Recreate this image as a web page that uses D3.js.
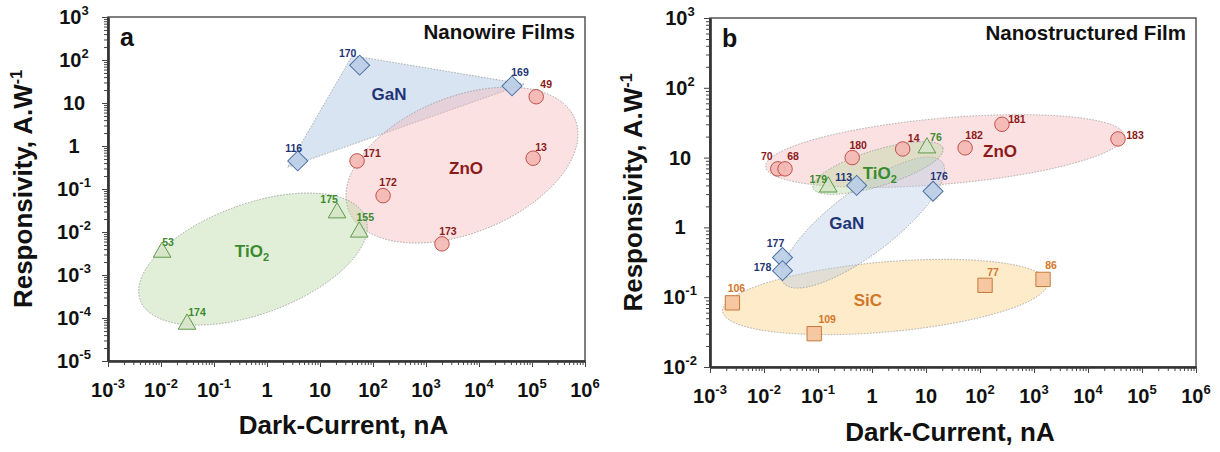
<!DOCTYPE html>
<html>
<head>
<meta charset="utf-8">
<script src="https://cdn.jsdelivr.net/npm/d3@7"></script>
<style>
  body { margin: 0; background: #fff; }
  svg { font-family: "Liberation Sans", Arial, sans-serif; }
</style>
</head>
<body>
<div id="chart"></div>
<script>
const width = 1220;
const height = 452;

// Panel a: nanowire films (dark current in nA, responsivity in A/W)
const nanowireZnO = [
    { ref: "49", dark: 1.2e5, resp: 14 },
    { ref: "13", dark: 1.05e5, resp: 0.52 },
    { ref: "171", dark: 50, resp: 0.45 },
    { ref: "172", dark: 155, resp: 0.07 },
    { ref: "173", dark: 2000, resp: 0.0053 }
];
const nanowireGaN = [
    { ref: "116", dark: 3.8, resp: 0.45 },
    { ref: "170", dark: 56, resp: 76 },
    { ref: "169", dark: 42000, resp: 25 }
];
const nanowireTiO2 = [
    { ref: "175", dark: 21, resp: 0.028 },
    { ref: "155", dark: 55, resp: 0.01 },
    { ref: "53", dark: 0.0105, resp: 0.0034 },
    { ref: "174", dark: 0.031, resp: 7.2e-5 }
];

// Panel b: nanostructured films
const filmZnO = [
    { ref: "70", dark: 0.018, resp: 6.9 },
    { ref: "68", dark: 0.0245, resp: 6.9 },
    { ref: "180", dark: 0.43, resp: 10 },
    { ref: "14", dark: 3.7, resp: 13.3 },
    { ref: "182", dark: 53, resp: 13.8 },
    { ref: "181", dark: 255, resp: 30 },
    { ref: "183", dark: 36000, resp: 18.5 }
];
const filmTiO2 = [
    { ref: "179", dark: 0.155, resp: 3.8 },
    { ref: "76", dark: 10.4, resp: 13.8 }
];
const filmGaN = [
    { ref: "113", dark: 0.52, resp: 4.0 },
    { ref: "176", dark: 13.5, resp: 3.3 },
    { ref: "177", dark: 0.022, resp: 0.37 },
    { ref: "178", dark: 0.022, resp: 0.24 }
];
const filmSiC = [
    { ref: "106", dark: 0.0026, resp: 0.083 },
    { ref: "109", dark: 0.085, resp: 0.03 },
    { ref: "77", dark: 124, resp: 0.148 },
    { ref: "86", dark: 1470, resp: 0.18 }
];

// shaded groups: ellipses given by the two ends of their long axis (data units)
const nanowireRegions = [
    { material: "GaN", kind: "hull" },
    { material: "ZnO", kind: "ellipse", from: [35, 0.031], to: [6.5e5, 4.2], half: 68 },
    { material: "TiO2", kind: "ellipse", from: [0.00406, 2.6e-4], to: [73, 0.0212], half: 55 }
];
const filmRegions = [
    { material: "SiC", kind: "ellipse", from: [0.00171, 0.063], to: [1770, 0.161], half: 35 },
    { material: "ZnO", kind: "ellipse", from: [0.01074, 7.41], to: [47000, 20.8], half: 33 },
    { material: "GaN", kind: "ellipse", from: [0.023, 0.16], to: [20, 8.6], half: 32 },
    { material: "TiO2", kind: "ellipse", from: [0.0807, 3.68], to: [20.6, 13.7], half: 18 }
];

const nanowireRegionLabels = [
    { material: "GaN", dark: 200, resp: 16 },
    { material: "ZnO", dark: 5700, resp: 0.31 },
    { material: "TiO2", dark: 0.52, resp: 0.0036 }
];
const filmRegionLabels = [
    { material: "ZnO", dark: 235, resp: 12.4 },
    { material: "TiO2", dark: 1.4, resp: 6.0 },
    { material: "GaN", dark: 0.34, resp: 1.16 },
    { material: "SiC", dark: 0.84, resp: 0.091 }
];

// tick labels: [base, exponent]
const xTickLabels = [["10", "-3"], ["10", "-2"], ["10", "-1"], ["1", ""], ["10", ""],
    ["10", "2"], ["10", "3"], ["10", "4"], ["10", "5"], ["10", "6"]];
const yTickLabelsA = [["10", "-5"], ["10", "-4"], ["10", "-3"], ["10", "-2"], ["10", "-1"],
    ["1", ""], ["10", ""], ["10", "2"], ["10", "3"]];
const yTickLabelsB = [["10", "-2"], ["10", "-1"], ["1", ""], ["10", ""], ["10", "2"], ["10", "3"]];

// label centre offsets from the marker, px
const labelOffsets = {
    a: { "116": [-4, -13], "170": [-12, -12], "169": [8, -14], "49": [10, -12], "13": [8, -11],
         "171": [15, -8], "172": [5, -13], "173": [6, -13], "175": [-8, -13], "155": [6, -15],
         "53": [6, -10], "174": [10, -12] },
    b: { "70": [-11, -13], "68": [8, -13], "180": [6, -12], "14": [11, -11], "179": [-10, -8],
         "113": [-13, -8], "181": [15, -5], "182": [9, -13], "183": [17, -4], "76": [9, -11],
         "176": [6, -15], "177": [-7, -14], "178": [-20, -3], "106": [4, -15], "109": [13, -14],
         "77": [8, -13], "86": [8, -14] }
};

const style = {
    ZnO:  { symbol: d3.symbolCircle, size: 165, rot: 0, fill: "#f4b8b2", stroke: "#c0504d", text: "#8b1a1a", region: "#f6b4b4" },
    GaN:  { symbol: d3.symbolSquare, size: 200, rot: 45, fill: "#b9cde5", stroke: "#4a6fa5", text: "#1f3575", region: "#b4cae6" },
    TiO2: { symbol: d3.symbolTriangle, size: 135, rot: 0, fill: "#d6e3c8", stroke: "#5e9a4b", text: "#3a8a2e", region: "#b6d89e" },
    SiC:  { symbol: d3.symbolSquare, size: 205, rot: 0, fill: "#f5c39b", stroke: "#c47a3a", text: "#d2772a", region: "#fcd796" }
};

const panels = [
    { key: "a", left: 108, top: 17, w: 477, h: 344, xDomain: [1e-3, 1e6], yDomain: [1e-5, 1e3],
      yLabels: yTickLabelsA, yLabelGap: 34, title: "Nanowire Films",
      series: [["ZnO", nanowireZnO], ["GaN", nanowireGaN], ["TiO2", nanowireTiO2]],
      regions: nanowireRegions, regionLabels: nanowireRegionLabels, yTitleX: 23, xTitleY: 434 },
    { key: "b", left: 710, top: 18, w: 486, h: 349, xDomain: [1e-3, 1e6], yDomain: [1e-2, 1e3],
      yLabels: yTickLabelsB, yLabelGap: 30, title: "Nanostructured Film",
      series: [["ZnO", filmZnO], ["TiO2", filmTiO2], ["GaN", filmGaN], ["SiC", filmSiC]],
      regions: filmRegions, regionLabels: filmRegionLabels, yTitleX: 633, xTitleY: 441 }
];

const svg = d3.select("#chart").append("svg")
    .attr("width", width)
    .attr("height", height);

function decades(domain) {
    const lo = Math.round(Math.log10(domain[0])), hi = Math.round(Math.log10(domain[1]));
    return d3.range(lo, hi + 1);
}

function minorTicks(domain) {
    const out = [];
    decades(domain).slice(0, -1).forEach(e => {
        for (let k = 2; k <= 9; k++) out.push(k * Math.pow(10, e));
    });
    return out;
}

function powerLabel(sel, label, supSize, supDy) {
    sel.append("tspan").text(label[0]);
    if (label[1]) {
        sel.append("tspan").attr("font-size", supSize).attr("dy", supDy).text(label[1]);
    }
}

function materialText(sel, name) {
    if (name === "TiO2") {
        sel.append("tspan").text("TiO");
        sel.append("tspan").attr("font-size", "0.65em").attr("dy", 4).text("2");
    } else {
        sel.text(name);
    }
}

function drawPanel(p) {
    const g = svg.append("g");
    const x = d3.scaleLog().domain(p.xDomain).range([p.left, p.left + p.w]);
    const y = d3.scaleLog().domain(p.yDomain).range([p.top + p.h, p.top]);
    const bottom = p.top + p.h;

    // shaded regions
    p.regions.forEach(r => {
        const st = style[r.material];
        if (r.kind === "hull") {
            const data = p.series.find(s => s[0] === r.material)[1];
            const hull = d3.polygonHull(data.map(d => [x(d.dark), y(d.resp)]));
            const c = d3.polygonCentroid(hull);
            const grown = hull.map(([px, py]) => {
                const dx = px - c[0], dy = py - c[1], l = Math.hypot(dx, dy);
                return [px + dx / l * 12, py + dy / l * 12];
            });
            g.append("path")
                .attr("d", "M" + grown.join("L") + "Z")
                .attr("fill", st.region).attr("fill-opacity", 0.5)
                .attr("stroke", "#999").attr("stroke-width", 0.8).attr("stroke-dasharray", "1.5,1.5");
        } else {
            const x1 = x(r.from[0]), y1 = y(r.from[1]), x2 = x(r.to[0]), y2 = y(r.to[1]);
            const cx = (x1 + x2) / 2, cy = (y1 + y2) / 2;
            const a = Math.hypot(x2 - x1, y2 - y1) / 2;
            const ang = Math.atan2(y2 - y1, x2 - x1) * 180 / Math.PI;
            g.append("ellipse")
                .attr("cx", cx).attr("cy", cy).attr("rx", a).attr("ry", r.half)
                .attr("transform", `rotate(${ang},${cx},${cy})`)
                .attr("fill", st.region).attr("fill-opacity", r.material === "SiC" ? 0.5 : 0.4)
                .attr("stroke", "#999").attr("stroke-width", 0.8).attr("stroke-dasharray", "1.5,1.5");
        }
    });

    // frame
    g.append("rect")
        .attr("x", p.left).attr("y", p.top).attr("width", p.w).attr("height", p.h)
        .attr("fill", "none").attr("stroke", "#555").attr("stroke-width", 1.5);

    // axes: major and minor ticks
    const xMaj = decades(p.xDomain).map(e => Math.pow(10, e));
    const yMaj = decades(p.yDomain).map(e => Math.pow(10, e));

    const axes = [
        g.append("g").attr("transform", `translate(0,${bottom})`)
            .call(d3.axisBottom(x).tickValues(minorTicks(p.xDomain)).tickSize(4).tickSizeOuter(0).tickFormat("")),
        g.append("g").attr("transform", `translate(0,${bottom})`)
            .call(d3.axisBottom(x).tickValues(xMaj).tickSize(6).tickSizeOuter(0).tickFormat("")),
        g.append("g").attr("transform", `translate(${p.left},0)`)
            .call(d3.axisLeft(y).tickValues(minorTicks(p.yDomain)).tickSize(4).tickSizeOuter(0).tickFormat("")),
        g.append("g").attr("transform", `translate(${p.left},0)`)
            .call(d3.axisLeft(y).tickValues(yMaj).tickSize(6).tickSizeOuter(0).tickFormat(""))
    ];
    axes.forEach(a => {
        a.select(".domain").attr("stroke", "#333").attr("stroke-width", 2.2);
        a.selectAll(".tick line").attr("stroke", "#444").attr("stroke-width", 1);
    });

    // tick labels
    xMaj.forEach((v, i) => {
        g.append("text")
            .attr("x", x(v)).attr("y", bottom + 36)
            .attr("text-anchor", "middle").attr("font-size", 20).attr("font-weight", "bold")
            .attr("fill", "#111")
            .call(powerLabel, xTickLabels[i], 13, -9);
    });
    yMaj.forEach((v, i) => {
        g.append("text")
            .attr("x", p.left - p.yLabelGap).attr("y", y(v) + 7)
            .attr("text-anchor", "middle").attr("font-size", 20).attr("font-weight", "bold")
            .attr("fill", "#111")
            .call(powerLabel, p.yLabels[i], 13, -9);
    });

    // axis titles
    g.append("text")
        .attr("x", p.left + p.w / 2 - 3).attr("y", p.xTitleY)
        .attr("text-anchor", "middle").attr("font-size", 26).attr("font-weight", "bold")
        .attr("fill", "#111")
        .text("Dark-Current, nA");
    g.append("text")
        .attr("transform", `translate(${p.yTitleX},${p.top + p.h / 2}) rotate(-90)`)
        .attr("text-anchor", "middle").attr("dy", "0.35em")
        .attr("font-size", 26).attr("font-weight", "bold").attr("fill", "#111")
        .call(powerLabel, ["Responsivity, A.W", "-1"], 16, -10);

    // region labels
    p.regionLabels.forEach(r => {
        g.append("text")
            .attr("x", x(r.dark)).attr("y", y(r.resp)).attr("dy", "0.35em")
            .attr("text-anchor", "middle").attr("font-size", 17).attr("font-weight", "bold")
            .attr("fill", style[r.material].text)
            .call(materialText, r.material);
    });

    // markers and reference numbers
    p.series.forEach(([material, data]) => {
        const st = style[material];
        const sym = d3.symbol().type(st.symbol).size(st.size);
        g.selectAll(null)
            .data(data)
            .enter()
            .append("path")
            .attr("d", sym)
            .attr("transform", d => `translate(${x(d.dark)},${y(d.resp)}) rotate(${st.rot})`)
            .attr("fill", st.fill).attr("fill-opacity", 0.9)
            .attr("stroke", st.stroke).attr("stroke-width", 1);

        g.selectAll(null)
            .data(data)
            .enter()
            .append("text")
            .attr("x", d => x(d.dark) + labelOffsets[p.key][d.ref][0])
            .attr("y", d => y(d.resp) + labelOffsets[p.key][d.ref][1])
            .attr("dy", "0.35em")
            .attr("text-anchor", "middle").attr("font-size", 10.5).attr("font-weight", "bold")
            .attr("fill", st.text)
            .text(d => d.ref);
    });

    // panel letter and title
    g.append("text")
        .attr("x", p.left + 12).attr("y", p.top + 29)
        .attr("font-size", 25).attr("font-weight", "bold").attr("fill", "#111")
        .text(p.key);
    g.append("text")
        .attr("x", p.left + p.w - 10).attr("y", p.top + 22)
        .attr("text-anchor", "end").attr("font-size", 20.5).attr("font-weight", "bold")
        .attr("fill", "#111")
        .text(p.title);
}

panels.forEach(drawPanel);
</script>
</body>
</html>
